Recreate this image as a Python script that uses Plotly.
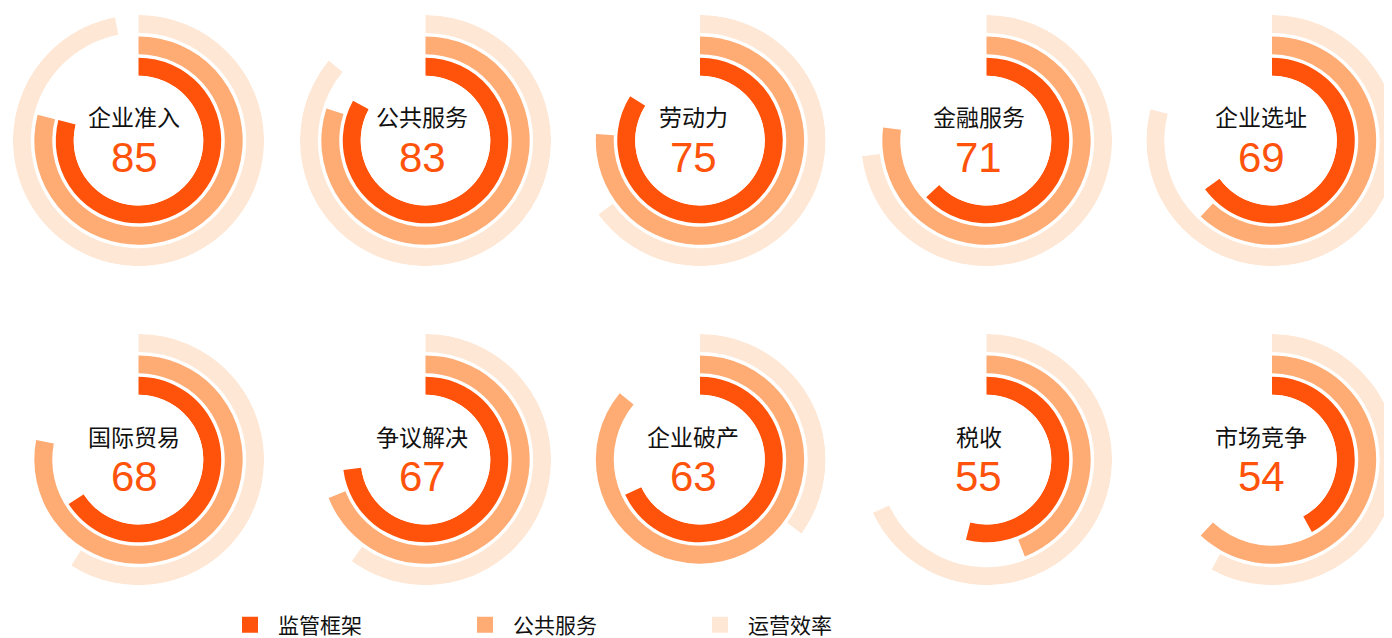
import plotly.graph_objects as go

categories = ["企业准入", "公共服务", "劳动力", "金融服务", "企业选址",
              "国际贸易", "争议解决", "企业破产", "税收", "市场竞争"]
scores = [85, 83, 75, 71, 69, 68, 67, 63, 55, 54]
series_names = ["监管框架", "公共服务", "运营效率"]
regulatory = [79, 83, 84, 63, 65, 66, 73, 68, 54, 42]
public_service = [79, 80, 76, 77, 62, 78, 69, 86, 44, 62]
efficiency = [97, 86, 65, 73, 79, 59, 60, 35, 68, 58]

colors = ["#FF520A", "#FFAB74", "#FFE7D5"]
W, H = 1392, 638
# layout positions in page pixels (figure is rendered with an 8px body offset)
ring_x = [130.5, 417.5, 692, 978.5, 1264]
text_x = [126, 414, 685, 970.5, 1253]
ring_y = [133, 453]
name_y = [108, 429]
score_y = [150, 470]
R = 126
HOLE_PX = 65
ring_base = [0, 21.5, 43]
ring_thick = 18

fig = go.Figure()
series = [regulatory, public_service, efficiency]
annotations = []
for i, cat in enumerate(categories):
    row, col = divmod(i, 5)
    cx, cy = ring_x[col], ring_y[row]
    pname = "polar" if i == 0 else f"polar{i+1}"
    for s, vals in enumerate(series):
        v = vals[i]
        fig.add_trace(go.Barpolar(
            r=[ring_thick], base=[ring_base[s]],
            theta=[v * 3.6 / 2], width=[v * 3.6],
            marker=dict(color=colors[s], line=dict(width=0)),
            name=series_names[s], showlegend=False,
            subplot=pname, hoverinfo="skip"))
    fig.layout[pname] = dict(
        domain=dict(x=[max(0, (cx - R) / W), min(1, (cx + R) / W)],
                    y=[1 - (cy + R) / H, 1 - (cy - R) / H]),
        hole=HOLE_PX / R,
        bgcolor="rgba(0,0,0,0)",
        radialaxis=dict(visible=False, range=[0, ring_base[2] + ring_thick]),
        angularaxis=dict(visible=False, rotation=90, direction="clockwise",
                         thetaunit="degrees", showgrid=False))
    annotations.append(dict(x=text_x[col] / W, y=1 - name_y[row] / H, xref="paper", yref="paper",
                            text=cat, showarrow=False, xanchor="center", yanchor="middle",
                            font=dict(family="Noto Sans CJK SC", size=23, color="#111111")))
    annotations.append(dict(x=text_x[col] / W, y=1 - score_y[row] / H, xref="paper", yref="paper",
                            text=str(scores[i]), showarrow=False, xanchor="center", yanchor="middle",
                            font=dict(family="Liberation Sans, Arial", size=42, color=colors[0])))

# legend entries (square swatches)
for s, nm in enumerate(series_names):
    fig.add_trace(go.Scatterpolar(
        r=[None], theta=[None], mode="markers", name=nm, subplot="polar",
        marker=dict(symbol="square", size=16, color=colors[s]), showlegend=True))

fig.update_layout(
    width=W, height=H,
    margin=dict(l=0, r=0, t=0, b=0),
    paper_bgcolor="white", plot_bgcolor="white",
    annotations=annotations,
    legend=dict(orientation="h", x=214 / W, xanchor="left", y=1 - 619 / H, yanchor="middle",
                itemwidth=46, entrywidth=174, entrywidthmode="pixels", itemsizing="trace",
                font=dict(family="Noto Sans CJK SC", size=21, color="#111111"),
                bgcolor="rgba(0,0,0,0)"),
)
fig.write_html("out.html")
